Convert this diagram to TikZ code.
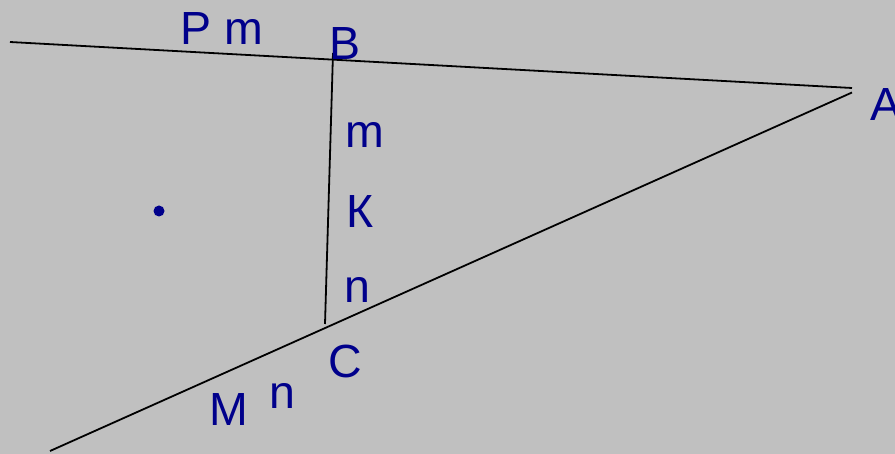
\documentclass[tikz,border=0pt]{standalone}
\usepackage{fontspec}
\setmainfont{Liberation Sans}
\definecolor{bg}{RGB}{192,192,192}
\definecolor{lbl}{RGB}{0,0,139}
\begin{document}
\begin{tikzpicture}[x=1pt,y=-1pt,
  lab/.style={anchor=base west,inner sep=0pt,text=lbl,font=\fontsize{46.5}{54}\selectfont},
  ln/.style={draw=black,line width=1.8pt}]
\fill[bg] (0,0) rectangle (895,454);
\useasboundingbox (0,0) rectangle (895,454);
\coordinate (L1a) at (10,42);
\coordinate (L1b) at (852,88);
\coordinate (L2a) at (852,92.5);
\coordinate (L2b) at (50,451);
\coordinate (Bp) at (333,53);
\coordinate (Cp) at (325,324);
\draw[ln] (L1a) -- (L1b);
\draw[ln] (L2a) -- (L2b);
\draw[ln] (Bp) -- (Cp);
\node[lab] (tPm) at (180,45) {P m};
\node[lab] (tB) at (329.5,60) {B};
\node[lab] (tA) at (870,121) {A};
\node[lab] (tm) at (345,148) {m};
\node[lab] (tK) at (346,228) {К};
\node[lab] (tn1) at (344,303) {n};
\node[lab] (tC) at (328,378) {C};
\node[lab] (tM) at (209.5,425) {M};
\node[lab] (tn2) at (269,409) {n};
\node[circle,fill=lbl,inner sep=0pt,minimum size=11pt] (dot) at (159,211) {};
\end{tikzpicture}
\end{document}
